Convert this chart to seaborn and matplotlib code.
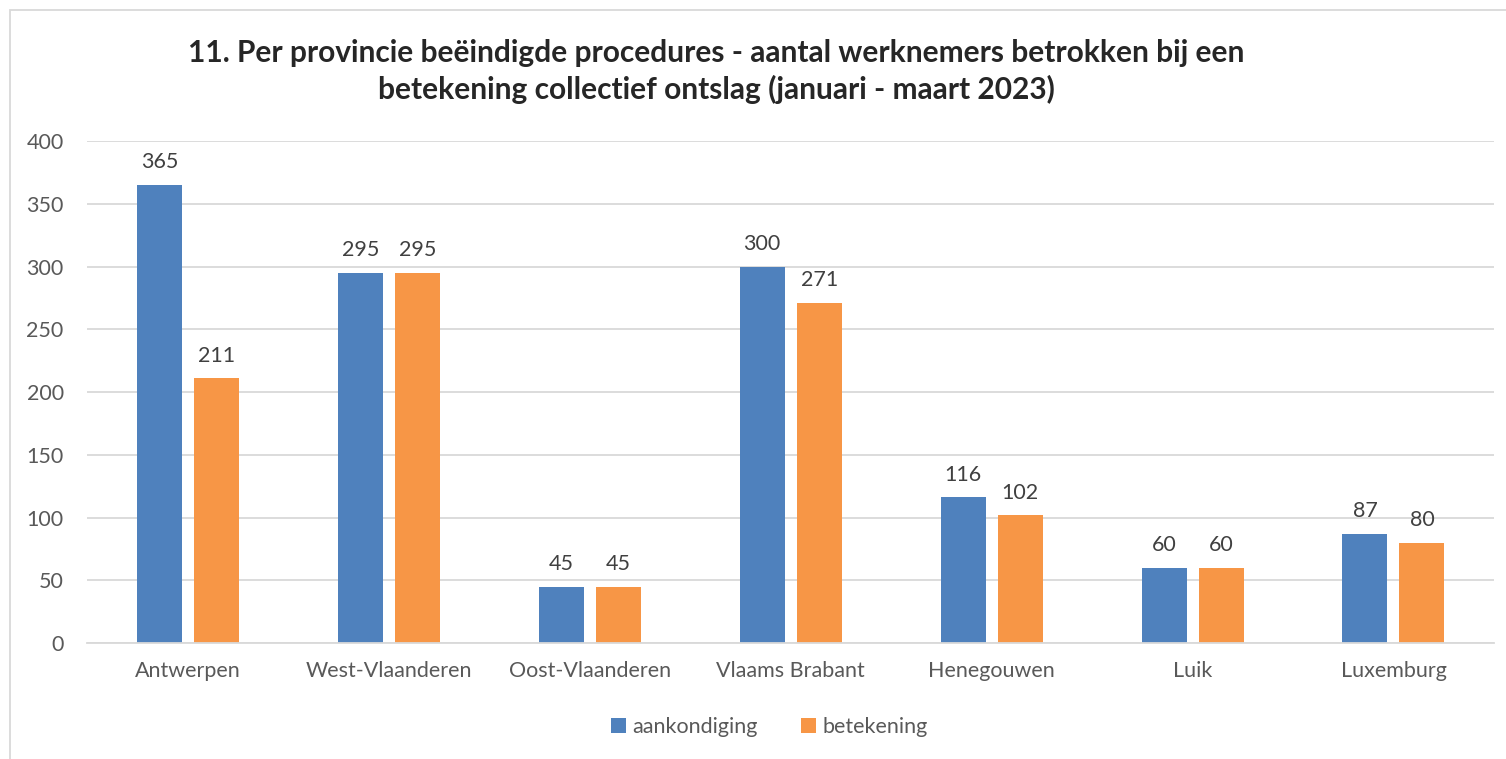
import pandas as pd
import matplotlib.pyplot as plt
import seaborn as sns
from matplotlib.patches import Rectangle

provinces = ["Antwerpen", "West-Vlaanderen", "Oost-Vlaanderen", "Vlaams Brabant",
             "Henegouwen", "Luik", "Luxemburg"]
aankondiging = [365, 295, 45, 300, 116, 60, 87]
betekening = [211, 295, 45, 271, 102, 60, 80]
series_names = ["aankondiging", "betekening"]
colors = ["#4F81BD", "#F79646"]

df = pd.DataFrame({
    "provincie": provinces * 2,
    "reeks": [series_names[0]] * len(provinces) + [series_names[1]] * len(provinces),
    "aantal": aankondiging + betekening,
})

sns.set_style("white")
plt.rcParams["font.family"] = ["Lato", "DejaVu Sans"]
text_color = "#595959"

fig = plt.figure(figsize=(15.06, 7.59), dpi=100)
ax = fig.add_axes([0.058, 0.1528, 0.934, 0.6614])

sns.barplot(data=df, x="provincie", y="aantal", hue="reeks", palette=colors,
            width=0.567, gap=0.21, ax=ax, saturation=1, legend=True,
            linewidth=0)

for cont in ax.containers:
    ax.bar_label(cont, padding=9, fontsize=15.5, color="#404040")

ax.set_ylim(0, 400)
ax.set_yticks(range(0, 401, 50))
ax.set_xlim(-0.5, len(provinces) - 0.5)
ax.yaxis.grid(True, color="#D9D9D9", linewidth=1.3)
ax.set_axisbelow(True)
for side in ["left", "right", "top"]:
    ax.spines[side].set_visible(False)
ax.spines["bottom"].set_color("#D9D9D9")
ax.spines["bottom"].set_linewidth(1.3)
ax.tick_params(axis="both", length=0, labelsize=15.5, colors=text_color)
ax.tick_params(axis="x", pad=13)
ax.tick_params(axis="y", pad=17)
ax.set_xlabel("")
ax.set_ylabel("")

handles, labels = ax.get_legend_handles_labels()
ax.legend(handles, labels, loc="center", bbox_to_anchor=(0.485, -0.167),
          ncol=2, frameon=False, fontsize=15.5, handlelength=0.7, handleheight=0.7,
          handletextpad=0.3, columnspacing=2.0, labelcolor=text_color)

fig.text(0.4754, 0.906,
         "11. Per provincie beëindigde procedures - aantal werknemers betrokken bij een\n"
         "betekening collectief ontslag (januari - maart 2023)",
         ha="center", va="center", fontsize=21.5, fontweight="bold", linespacing=1.35)

fig.patches.append(Rectangle((10 / 1506, -0.05), 1.1, 1.0 - 10 / 759 + 0.05,
                             transform=fig.transFigure, fill=False,
                             edgecolor="#D9D9D9", linewidth=1.3))

fig.savefig("out.png", dpi=100)
